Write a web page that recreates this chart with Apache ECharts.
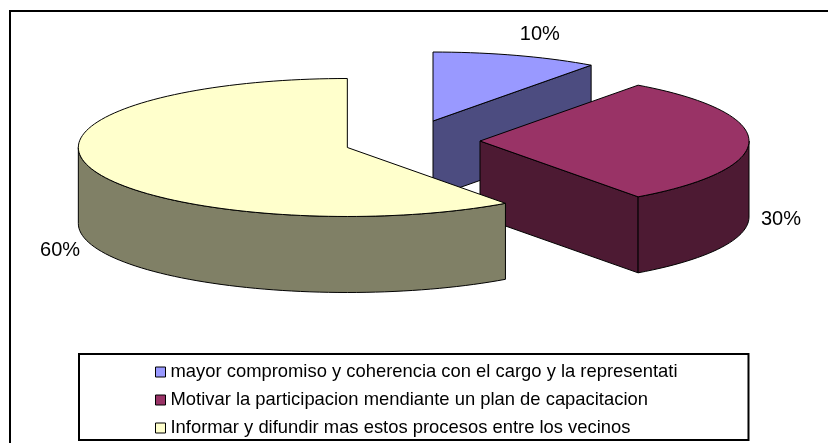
<!DOCTYPE html>
<html>
<head>
<meta charset="utf-8">
<script src="https://cdn.jsdelivr.net/npm/echarts@6/dist/echarts.min.js"></script>
<style>
    html, body { margin: 0; padding: 0; background: #fff; }
    #chart { width: 828px; height: 443px; }
</style>
</head>
<body>
<div id="chart"></div>
<script>
var categories = [
    'mayor compromiso y coherencia con el cargo y la representati',
    'Motivar la participacion mendiante un plan de capacitacion',
    'Informar y difundir mas estos procesos entre los vecinos'
];
var values = [10, 30, 60];

var topColors = ['#9999FF', '#993366', '#FFFFCC'];
var sideColors = ['#4C4C80', '#4D1A33', '#808066'];

(function(){

    var chart = echarts.init(document.getElementById('chart'));

    // ellipse of the pie top, thickness and explosion offsets (px)
    var cx = 412, cy = 141, rx = 269, ry = 69, depth = 76;
    var explodeX = 68, explodeY = 21;

    var total = values.reduce(function(s, v){ return s + v; }, 0);
    var starts = [];
    var acc = 0;
    values.forEach(function(v){ starts.push(acc); acc += v / total * 360; });

    // angles are degrees clockwise from 12 o'clock
    function pt(ox, oy, deg, dy){
        var r = deg * Math.PI / 180;
        return [ox + rx * Math.sin(r), oy - ry * Math.cos(r) + (dy || 0)];
    }
    function arc(ox, oy, a, b, dy){
        var n = Math.max(2, Math.ceil((b - a) / 2));
        var pts = [];
        for (var i = 0; i <= n; i++) {
            pts.push(pt(ox, oy, a + (b - a) * i / n, dy));
        }
        return pts;
    }

    var line = { stroke: '#000', lineWidth: 1, lineJoin: 'round' };

    function renderSlice(idx){
        return function(params, api){
            var v = api.value(0);
            var a = starts[idx], b = a + v / total * 360;
            var mid = (a + b) / 2, mr = mid * Math.PI / 180;
            var ox = cx + explodeX * Math.sin(mr), oy = cy - explodeY * Math.cos(mr);
            var children = [];

            // radial cut faces that look towards the viewer
            [[a, -1], [b, 1]].forEach(function(f){
                if (Math.sin(f[0] * Math.PI / 180) * f[1] > 1e-6) {
                    var p = pt(ox, oy, f[0]);
                    children.push({
                        type: 'polygon',
                        shape: { points: [[ox, oy], p, [p[0], p[1] + depth], [ox, oy + depth]] },
                        style: echarts.util.extend({ fill: sideColors[idx] }, line)
                    });
                }
            });

            // front part of the outer wall
            var s0 = Math.max(a, 90), s1 = Math.min(b, 270);
            if (s1 > s0) {
                var wall = arc(ox, oy, s0, s1, 0).concat(arc(ox, oy, s0, s1, depth).reverse());
                children.push({
                    type: 'polygon',
                    shape: { points: wall },
                    style: echarts.util.extend({ fill: sideColors[idx] }, line)
                });
            }

            // top face
            children.push({
                type: 'polygon',
                shape: { points: [[ox, oy]].concat(arc(ox, oy, a, b, 0)) },
                style: echarts.util.extend({ fill: topColors[idx] }, line)
            });

            // percent label
            var sn = Math.sin(mr), cs = Math.cos(mr);
            var lx = ox + (rx + 12) * sn, ly = oy - (ry + 12) * cs;
            if (cs < 0.5) ly += depth + 2;
            children.push({
                type: 'text',
                style: {
                    text: Math.round(v / total * 100) + '%',
                    x: lx, y: ly,
                    align: sn > 0.05 ? 'left' : (sn < -0.05 ? 'right' : 'center'),
                    verticalAlign: cs > 0.5 ? 'bottom' : 'middle',
                    font: '20px Arial, "Liberation Sans"',
                    fill: '#000'
                }
            });

            return { type: 'group', children: children };
        };
    }

    // paint back slices first
    var order = values.map(function(v, i){
        var m = (starts[i] + v / total * 180) * Math.PI / 180;
        return { i: i, c: Math.cos(m) };
    }).sort(function(p, q){ return q.c - p.c; });
    var zOf = [];
    order.forEach(function(o, k){ zOf[o.i] = 2 + k; });

    var series = categories.map(function(name, i){
        return {
            type: 'custom',
            name: name,
            coordinateSystem: 'none',
            renderItem: renderSlice(i),
            data: [[values[i]]],
            itemStyle: { color: topColors[i] },
            z: zOf[i],
            silent: true
        };
    });

    var option = {
        backgroundColor: '#fff',
        animation: false,
        graphic: [{
            type: 'rect',
            shape: { x: 10, y: 11, width: 840, height: 460 },
            style: { fill: 'none', stroke: '#000', lineWidth: 2 },
            z: 0
        }],
        legend: {
            orient: 'vertical',
            left: 79,
            top: 354,
            padding: [9, 71, 3, 76],
            itemGap: 10,
            itemWidth: 10,
            itemHeight: 10,
            icon: 'rect',
            borderColor: '#000',
            borderWidth: 2,
            selectedMode: false,
            itemStyle: { borderColor: '#000', borderWidth: 1 },
            textStyle: {
                fontFamily: 'Arial, "Liberation Sans"',
                fontSize: 18.4,
                lineHeight: 18,
                color: '#000'
            },
            data: categories
        },
        series: series
    };
    chart.setOption(option);

})();
</script>
</body>
</html>
